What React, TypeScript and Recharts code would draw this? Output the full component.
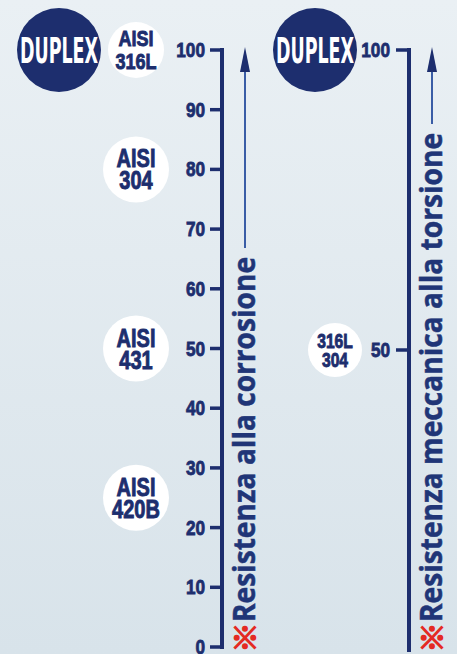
import React from 'react';
import { ScatterChart, Scatter, XAxis, YAxis } from 'recharts';

// left scale: corrosion resistance
const corrosionGrades = ['DUPLEX', 'AISI 316L', 'AISI 304', 'AISI 431', 'AISI 420B'];
const corrosionColumns = [0, 1, 1, 1, 1];
const corrosionValues = [100, 100, 80, 50, 25];
const corrosionTicks = [0, 10, 20, 30, 40, 50, 60, 70, 80, 90, 100];
const corrosionTitle = 'Resistenza alla corrosione';

// right scale: mechanical torsion resistance
const torsionGrades = ['DUPLEX', '316L 304'];
const torsionColumns = [0, 1];
const torsionValues = [100, 50];
const torsionTicks = [50, 100];
const torsionTitle = 'Resistenza meccanica alla torsione';

const NAVY = '#1d2e6e';
const TITLE_BLUE = '#203577';
const ARROW_BLUE = '#3a5da6';
const RED = '#e42a23';
const CONDENSED = "'DejaVu Sans Condensed', 'DejaVu Sans', sans-serif";
const SANS = "'Liberation Sans', Arial, sans-serif";
const TITLE_FONT = "'Open Sans', 'DejaVu Sans', sans-serif";
const H = 654;
const TITLE_BASE = 622;

const corrosionData = corrosionGrades.map((name, i) => ({
  name,
  col: corrosionColumns[i],
  value: corrosionValues[i],
}));
const torsionData = torsionGrades.map((name, i) => ({
  name,
  col: torsionColumns[i],
  value: torsionValues[i],
}));

const bubbleLook = (name: string, side: string) => {
  if (name === 'DUPLEX') return { r: 42, fill: NAVY, color: '#fff', size: 35, lh: 0, sx: 1, width: 78 };
  if (name === 'AISI 316L') return { r: 28, fill: '#fff', color: NAVY, size: 22, lh: 23, sx: 0.82, width: 0 };
  if (side === 'torsion') return { r: 27, fill: '#fff', color: NAVY, size: 20, lh: 19, sx: 0.78, width: 0 };
  return { r: 33, fill: '#fff', color: NAVY, size: 25, lh: 22, sx: 0.8, width: 0 };
};

const Bubble = (props: any) => {
  const { cx, cy, payload, side } = props;
  if (cx == null || cy == null) return null;
  const look = bubbleLook(payload.name, side);
  const lines: string[] = payload.name.split(' ');
  const cap = look.size * 0.72;
  return (
    <g>
      <circle cx={cx} cy={cy} r={look.r} fill={look.fill} />
      {lines.map((line, i) => {
        const by = cy + (i - (lines.length - 1) / 2) * look.lh + cap / 2;
        if (look.width) {
          return (
            <text
              key={i}
              x={cx}
              y={by}
              textAnchor="middle"
              fill={look.color}
              fontSize={look.size}
              fontWeight={700}
              fontFamily={CONDENSED}
              textLength={look.width}
              lengthAdjust="spacingAndGlyphs"
            >
              {line}
            </text>
          );
        }
        return (
          <text
            key={i}
            transform={`translate(${cx} ${by}) scale(${look.sx} 1)`}
            textAnchor="middle"
            fill={look.color}
            stroke={look.color}
            strokeWidth={0.9}
            fontSize={look.size}
            fontWeight={700}
            fontFamily={SANS}
          >
            {line}
          </text>
        );
      })}
    </g>
  );
};

const CondensedTick = (props: any) => {
  const { x, y, payload } = props;
  return (
    <text
      transform={`translate(${x} ${y + 7}) scale(0.86 1)`}
      textAnchor="end"
      fill={NAVY}
      stroke={NAVY}
      strokeWidth={0.8}
      fontSize={20}
      fontWeight={700}
      fontFamily={SANS}
    >
      {payload.value}
    </text>
  );
};

// arrow + rotated axis title drawn beside the axis line
const AxisTitle = ({ axisX, title, length }: { axisX: number; title: string; length: number }) => {
  const ax = axisX + 23;
  const tx = axisX + 33;
  return (
    <g>
      <line x1={ax} y1={70} x2={ax} y2={TITLE_BASE - length - 9} stroke={ARROW_BLUE} strokeWidth={2} />
      <polygon points={`${ax},47 ${ax - 5},72 ${ax + 5},72`} fill={NAVY} />
      <text
        x={tx}
        y={TITLE_BASE}
        transform={`rotate(-90 ${tx} ${TITLE_BASE})`}
        fill={TITLE_BLUE}
        stroke={TITLE_BLUE}
        strokeWidth={0.5}
        fontSize={30}
        fontWeight={700}
        fontFamily={TITLE_FONT}
        textLength={length}
        lengthAdjust="spacingAndGlyphs"
      >
        {title}
      </text>
      <text
        x={ax}
        y={649}
        textAnchor="middle"
        fill={RED}
        stroke={RED}
        strokeWidth={1.6}
        fontSize={29}
        fontWeight={700}
        fontFamily="'Noto Sans CJK JP', 'Noto Sans CJK SC', sans-serif"
      >
        ※
      </text>
    </g>
  );
};

export default function App() {
  const leftW = 270;
  const leftAxis = 222;
  const rightX = 262;
  const rightW = 457 - rightX;
  const rightAxis = 409 - rightX;

  return (
    <div
      style={{
        position: 'absolute',
        left: 0,
        top: 0,
        width: 457,
        height: H,
        overflow: 'hidden',
        background: 'linear-gradient(#eaf0f4, #d8e3ea)',
      }}
    >
      <div style={{ position: 'absolute', left: 0, top: 0 }}>
        <ScatterChart width={leftW} height={H} margin={{ top: 50, right: leftW - leftAxis, bottom: 7, left: 0 }}>
          <XAxis type="number" dataKey="col" domain={[0, 1]} hide padding={{ left: 59, right: leftAxis - 136 }} />
          <YAxis
            type="number"
            dataKey="value"
            orientation="right"
            mirror
            domain={[0, 100]}
            ticks={corrosionTicks}
            interval={0}
            tickSize={12}
            tickMargin={5}
            tick={<CondensedTick />}
            tickLine={{ stroke: NAVY, strokeWidth: 3.5 }}
            axisLine={{ stroke: NAVY, strokeWidth: 4, strokeLinecap: 'square' }}
            label={() => <AxisTitle axisX={leftAxis} title={corrosionTitle} length={365} />}
          />
          <Scatter
            data={corrosionData}
            isAnimationActive={false}
            shape={(p: any) => <Bubble {...p} side="corrosion" />}
          />
        </ScatterChart>
      </div>
      <div style={{ position: 'absolute', left: rightX, top: 0 }}>
        <ScatterChart width={rightW} height={H} margin={{ top: 50, right: rightW - rightAxis, bottom: 4, left: 0 }}>
          <XAxis type="number" dataKey="col" domain={[0, 1]} hide padding={{ left: 53, right: rightAxis - 73 }} />
          <YAxis
            type="number"
            dataKey="value"
            orientation="right"
            mirror
            domain={[0, 100]}
            ticks={torsionTicks}
            interval={0}
            tickSize={13}
            tickMargin={6}
            tick={<CondensedTick />}
            tickLine={{ stroke: NAVY, strokeWidth: 3.5 }}
            axisLine={{ stroke: NAVY, strokeWidth: 4, strokeLinecap: 'square' }}
            label={() => <AxisTitle axisX={rightAxis} title={torsionTitle} length={489} />}
          />
          <Scatter
            data={torsionData}
            isAnimationActive={false}
            shape={(p: any) => <Bubble {...p} side="torsion" />}
          />
        </ScatterChart>
      </div>
    </div>
  );
}
